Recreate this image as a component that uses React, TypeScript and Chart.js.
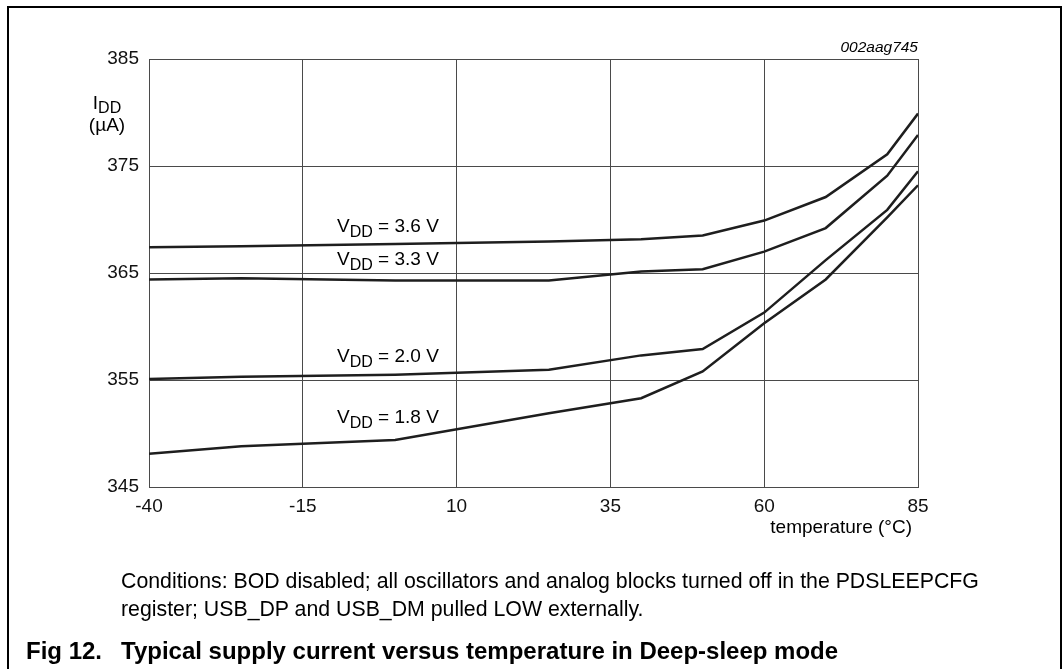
import React, { useEffect, useRef } from "react";
import { Chart, registerables } from "chart.js";

Chart.register(...registerables);

// ---- data ----
const temperatures = [-40, -25, 0, 25, 40, 50, 60, 70, 80, 85];
const vdd36 = [367.4, 367.5, 367.7, 367.95, 368.15, 368.5, 369.9, 372.1, 376.1, 379.9];
const vdd33 = [364.4, 364.5, 364.3, 364.3, 365.15, 365.35, 367.0, 369.2, 374.1, 377.9];
const vdd20 = [355.1, 355.3, 355.5, 355.95, 357.3, 357.9, 361.3, 366.2, 370.9, 374.5];
const vdd18 = [348.1, 348.8, 349.4, 351.9, 353.3, 355.8, 360.3, 364.4, 370.2, 373.2];
const seriesLabels = ["3.6 V", "3.3 V", "2.0 V", "1.8 V"];
const seriesValues = [vdd36, vdd33, vdd20, vdd18];
const xTickValues = [-40, -15, 10, 35, 60, 85];
const yTickValues = [345, 355, 365, 375, 385];

const FONT = "'Liberation Sans', Arial, Helvetica, sans-serif";

type TxtProps = {
  x: number;
  baseline: number;
  size: number;
  align?: "left" | "right" | "center";
  weight?: number | string;
  italic?: boolean;
  children: React.ReactNode;
};

function Txt({ x, baseline, size, align = "left", weight = 400, italic = false, children }: TxtProps) {
  const style: React.CSSProperties = {
    position: "absolute",
    top: baseline - 0.8465 * size,
    fontSize: size,
    lineHeight: size + "px",
    fontWeight: weight as any,
    fontStyle: italic ? "italic" : "normal",
    whiteSpace: "nowrap",
    fontFamily: FONT,
    color: "#000",
  };
  if (align === "left") style.left = x;
  else if (align === "right") style.right = 1063 - x;
  else {
    style.left = x;
    style.transform = "translateX(-50%)";
  }
  return <div style={style}>{children}</div>;
}

function VddLabel({ x, baseline, text }: { x: number; baseline: number; text: string }) {
  return (
    <Txt x={x} baseline={baseline} size={19}>
      V<span style={{ fontSize: 16, position: "relative", top: 5 }}>DD</span> = {text}
    </Txt>
  );
}

export default function App() {
  const ref = useRef<HTMLCanvasElement>(null);

  useEffect(() => {
    if (!ref.current) return;
    const chart = new Chart(ref.current, {
      type: "line",
      data: {
        datasets: seriesValues.map((vals, k) => ({
          label: "VDD = " + seriesLabels[k],
          data: temperatures.map((t, i) => ({ x: t, y: vals[i] })),
          borderColor: "#1e1e1e",
          borderWidth: 2.5,
          pointRadius: 0,
          tension: 0,
          fill: false,
        })),
      },
      options: {
        responsive: false,
        animation: false,
        devicePixelRatio: 1,
        layout: { padding: { top: 59, left: 0, right: 145, bottom: 0 } },
        plugins: { legend: { display: false }, tooltip: { enabled: false }, title: { display: false } },
        scales: {
          x: {
            type: "linear",
            min: -40,
            max: 85,
            afterBuildTicks: (s: any) => {
              s.ticks = xTickValues.map((v) => ({ value: v }));
            },
            afterFit: (s: any) => {
              s.height = 182;
            },
            grid: { color: "#4a4a4a", lineWidth: 1, drawTicks: false },
            border: { color: "#4a4a4a", width: 1 },
            ticks: {
              padding: 8,
              autoSkip: false,
              maxRotation: 0,
              color: "#111",
              font: { family: FONT, size: 19 },
              callback: (v: any) => String(v),
            },
          },
          y: {
            type: "linear",
            min: 345,
            max: 385,
            afterBuildTicks: (s: any) => {
              s.ticks = yTickValues.map((v) => ({ value: v }));
            },
            afterFit: (s: any) => {
              s.width = 149;
            },
            grid: { color: "#4a4a4a", lineWidth: 1, drawTicks: false },
            border: { color: "#4a4a4a", width: 1 },
            ticks: {
              padding: 10,
              autoSkip: false,
              color: "#111",
              font: { family: FONT, size: 19 },
              callback: (v: any) => String(v),
            },
          },
        },
      },
    } as any);
    return () => chart.destroy();
  }, []);

  return (
    <div
      style={{
        position: "absolute",
        left: 0,
        top: 0,
        width: 1063,
        height: 669,
        background: "#fff",
        overflow: "hidden",
        fontFamily: FONT,
      }}
    >
      <canvas ref={ref} width={1063} height={669} style={{ position: "absolute", left: 0, top: 0, width: 1063, height: 669 }} />
      <div
        style={{
          position: "absolute",
          left: 7,
          top: 6,
          width: 1055,
          height: 680,
          boxSizing: "border-box",
          borderLeft: "2px solid #000",
          borderTop: "2px solid #000",
          borderRight: "2px solid #000",
        }}
      />
      <Txt x={918} baseline={52} size={15.5} align="right" italic>
        002aag745
      </Txt>
      <Txt x={107} baseline={109} size={19} align="center">
        I<span style={{ fontSize: 16, position: "relative", top: 4 }}>DD</span>
      </Txt>
      <Txt x={107} baseline={131} size={19} align="center">
        (µA)
      </Txt>
      <VddLabel x={337} baseline={232} text={seriesLabels[0]} />
      <VddLabel x={337} baseline={265} text={seriesLabels[1]} />
      <VddLabel x={337} baseline={362} text={seriesLabels[2]} />
      <VddLabel x={337} baseline={423} text={seriesLabels[3]} />
      <Txt x={912} baseline={533} size={19} align="right">
        temperature (°C)
      </Txt>
      <Txt x={121} baseline={589} size={21.3}>
        Conditions: BOD disabled; all oscillators and analog blocks turned off in the PDSLEEPCFG
      </Txt>
      <Txt x={121} baseline={617} size={21.3}>
        register; USB_DP and USB_DM pulled LOW externally.
      </Txt>
      <Txt x={26} baseline={659} size={24} weight={700}>
        Fig 12.
      </Txt>
      <Txt x={121} baseline={659} size={24} weight={700}>
        Typical supply current versus temperature in Deep-sleep mode
      </Txt>
    </div>
  );
}
